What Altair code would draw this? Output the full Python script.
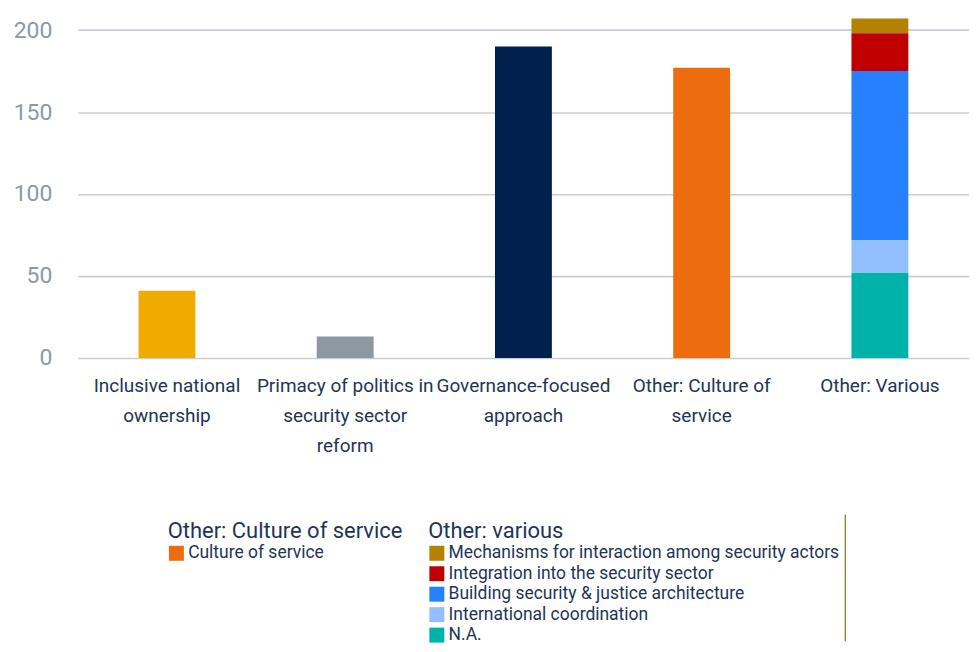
import json
import altair as alt
import pandas as pd

# ---------------- data ----------------
categories = [
    "Inclusive national ownership",
    "Primacy of politics in security sector reform",
    "Governance-focused approach",
    "Other: Culture of service",
    "Other: Various",
]
category_label_lines = [
    ["Inclusive national", "ownership"],
    ["Primacy of politics in", "security sector", "reform"],
    ["Governance-focused", "approach"],
    ["Other: Culture of", "service"],
    ["Other: Various"],
]

single_categories = categories[:3]
single_values = [41, 13, 190]
single_colors = ["#f0ab00", "#8c99a2", "#00214d"]

culture_category = "Other: Culture of service"
culture_segments = ["Culture of service"]
culture_values = [177]
culture_colors = ["#ec6c0e"]

various_category = "Other: Various"
various_segments = [
    "Mechanisms for interaction among security actors",
    "Integration into the security sector",
    "Building security & justice architecture",
    "International coordination",
    "N.A.",
]
various_values = [9, 23, 103, 20, 52]
various_colors = ["#b58100", "#c00000", "#2680ff", "#94bfff", "#00b2aa"]
various_stack_order = [4, 3, 2, 1, 0]  # N.A. at the bottom

y_ticks = [0, 50, 100, 150, 200]

# ---------------- tables ----------------
df_single = pd.DataFrame({"category": single_categories, "value": single_values, "color": single_colors})
df_culture = pd.DataFrame({"category": [culture_category] * len(culture_segments),
                           "segment": culture_segments, "value": culture_values})
df_various = pd.DataFrame({"category": [various_category] * len(various_segments),
                           "segment": various_segments, "value": various_values,
                           "order": various_stack_order})

# label expression for multi-line category labels
expr = "datum.value"
for cat, lines in reversed(list(zip(categories, category_label_lines))):
    expr = f"datum.value == {json.dumps(cat)} ? {json.dumps(lines)} : ({expr})"

FONT = "Roboto"
NAVY = "#1e3556"

x_enc = alt.X(
    "category:N",
    scale=alt.Scale(domain=categories),
    sort=None,
    axis=alt.Axis(
        title=None, labelAngle=0, domain=False, ticks=False, labelPadding=19,
        labelFontSize=19, labelColor=NAVY, labelFont=FONT, labelLineHeight=30,
        labelLimit=300, labelExpr=expr, grid=False,
    ),
)
y_scale = alt.Scale(domain=[0, 210], nice=False)
y_enc = alt.Y(
    "value:Q",
    scale=y_scale,
    stack="zero",
    axis=alt.Axis(
        title=None, values=y_ticks, domain=False, ticks=False, labelPadding=26,
        labelFontSize=23, labelColor="#8d99a3", labelFont=FONT,
        grid=True, gridColor="#c9cdd3", gridWidth=1.6,
    ),
)

BAR_W = 57

def legend(title, lx, ly):
    return alt.Legend(
        title=title, orient="none", legendX=lx, legendY=ly,
        titleFont=FONT, titleFontSize=22, titleFontWeight="normal", titleColor=NAVY,
        titlePadding=2, titleLimit=500, labelFont=FONT, labelFontSize=17.5, labelColor=NAVY,
        labelOffset=3, labelLimit=600, symbolType="square", symbolSize=225,
        symbolStrokeWidth=0, rowPadding=1.5, symbolOpacity=1,
    )

single = alt.Chart(df_single).mark_bar(size=BAR_W).encode(
    x=x_enc, y=y_enc, color=alt.Color("color:N", scale=None)
)

culture = alt.Chart(df_culture).mark_bar(size=BAR_W).encode(
    x=x_enc, y=y_enc,
    color=alt.Color("segment:N",
                    scale=alt.Scale(domain=culture_segments, range=culture_colors),
                    legend=legend("Other: Culture of service", 90, 508)),
)

various = alt.Chart(df_various).mark_bar(size=BAR_W).encode(
    x=x_enc, y=y_enc,
    color=alt.Color("segment:N",
                    scale=alt.Scale(domain=various_segments, range=various_colors),
                    legend=legend("Other: various", 351, 508)),
    order=alt.Order("order:Q"),
)

divider = alt.Chart(pd.DataFrame({"a": [0]})).mark_rule(color="#8a6a1a", strokeWidth=1.2).encode(
    x=alt.value(769), y=alt.value(502), y2=alt.value(629)
)

chart = alt.layer(single, culture, various, divider).resolve_scale(
    color="independent"
).properties(
    width=893, height=345,
    padding={"left": 5, "top": 5, "right": 0, "bottom": 0},
).configure(background="white").configure_view(strokeWidth=0, stroke=None)

chart.save("out.html", embed_options={"renderer": "svg", "actions": False})
